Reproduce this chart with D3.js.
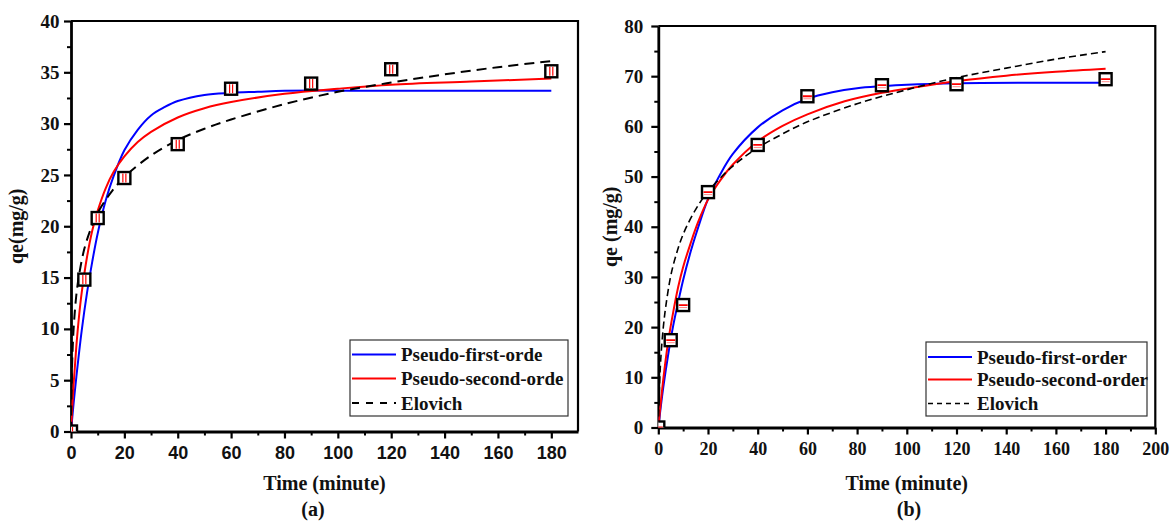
<!DOCTYPE html>
<html>
<head>
<meta charset="utf-8">
<script src="https://cdnjs.cloudflare.com/ajax/libs/d3/7.8.5/d3.min.js"></script>
<style>
  body { margin: 0; background: #fff; }
  svg { display: block; }
</style>
</head>
<body>
<svg id="chart" width="1170" height="525"></svg>
<script>
// measured points (same sampling times in both panels)
let timePts = [0, 5, 10, 20, 40, 60, 90, 120, 180];
let qeA = [0, 14.8, 20.8, 24.7, 28.0, 33.4, 33.9, 35.3, 35.1];
let qeB = [0, 17.4, 24.4, 46.9, 56.3, 66.0, 68.2, 68.4, 69.4];

// fitted curves
let pfoTimeA = [0, 1, 2, 4, 6, 8, 10, 13, 16, 20, 25, 30, 35, 40, 50, 60, 70, 80, 120, 180];
let pfoA = [0, 2.8, 5.3, 9.8, 13.5, 16.6, 19.3, 22.5, 24.9, 27.4, 29.4, 30.8, 31.6, 32.2, 32.8, 33.0, 33.1, 33.2, 33.2, 33.2];
let psoTimeA = [0, 1, 2, 3, 4, 6, 8, 10, 13, 16, 20, 25, 30, 40, 50, 60, 80, 100, 120, 150, 180];
let psoA = [0, 4.7, 8.3, 11.2, 13.5, 17.0, 19.6, 21.5, 23.7, 25.3, 26.8, 28.2, 29.2, 30.6, 31.5, 32.1, 32.9, 33.4, 33.8, 34.1, 34.4];
let eloTimeA = [0, 0.25, 0.5, 1, 2, 3, 5, 7.5, 10, 15, 20, 30, 40, 50, 60, 80, 100, 120, 140, 160, 180];
let eloA = [0, 4.7, 7.2, 10.1, 13.3, 15.2, 17.8, 19.8, 21.3, 23.3, 24.8, 26.9, 28.4, 29.5, 30.4, 31.9, 33.1, 34.0, 34.8, 35.5, 36.1];

// fitted curves
let pfoTimeB = [0, 2, 4, 6, 8, 10, 13, 16, 20, 25, 30, 40, 50, 60, 70, 80, 90, 100, 120, 150, 180];
let pfoB = [0, 8.0, 14.6, 20.3, 25.0, 29.4, 35.0, 39.8, 45.5, 50.5, 54.5, 59.8, 63.2, 65.5, 66.8, 67.6, 68.0, 68.3, 68.6, 68.7, 68.7];
let psoTimeB = [0, 2, 4, 6, 8, 10, 13, 16, 20, 25, 30, 40, 50, 60, 75, 90, 105, 120, 140, 160, 180];
let psoB = [0, 9.6, 17.2, 23.0, 28.0, 32.0, 36.7, 40.9, 45.4, 49.3, 52.4, 57.0, 60.1, 62.4, 65.0, 66.7, 67.9, 69.0, 70.1, 70.9, 71.5];
let eloTimeB = [0, 0.5, 1, 2, 3, 5, 7, 10, 15, 20, 30, 40, 50, 60, 80, 100, 120, 140, 160, 180];
let eloB = [0, 8.6, 13.7, 19.9, 24.1, 30.2, 34.1, 38.5, 43.4, 47.0, 52.1, 55.7, 58.5, 60.9, 64.5, 67.3, 69.7, 71.6, 73.4, 74.9];

let legendA = ["Pseudo-first-orde", "Pseudo-second-orde", "Elovich"];
let legendB = ["Pseudo-first-order", "Pseudo-second-order", "Elovich"];

let serif = "'Liberation Serif', 'Times New Roman', serif";
let sans = "'Liberation Sans', Arial, sans-serif";

let svg = d3.select("#chart");
svg.append("rect").attr("width", 1170).attr("height", 525).attr("fill", "#fff");

function zip(ts, qs) {
    return ts.map((t, i) => ({ t: t, q: qs[i] }));
}

function drawPanel(p) {
    let xScale = d3.scaleLinear().domain(p.xDomain).range([p.left, p.right]);
    let yScale = d3.scaleLinear().domain(p.yDomain).range([p.bottom, p.top]);

    let g = svg.append("g");

    g.append("clipPath")
        .attr("id", p.id + "-clip")
        .append("rect")
        .attr("x", p.left)
        .attr("y", p.top)
        .attr("width", p.right - p.left)
        .attr("height", p.bottom - p.top);

    // frame top/right
    g.append("path")
        .attr("d", "M" + p.left + "," + p.top + "H" + p.right + "V" + p.bottom)
        .attr("fill", "none")
        .attr("stroke", "#000")
        .attr("stroke-width", 2.2);

    // minor ticks
    g.append("g")
        .attr("transform", "translate(0," + p.bottom + ")")
        .call(d3.axisBottom(xScale).tickValues(p.xMinor).tickSize(4).tickFormat("").tickSizeOuter(0))
        .call(a => a.select(".domain").remove())
        .call(a => a.selectAll("line").attr("stroke-width", 2));
    g.append("g")
        .attr("transform", "translate(" + p.left + ",0)")
        .call(d3.axisLeft(yScale).tickValues(p.yMinor).tickSize(4).tickFormat("").tickSizeOuter(0))
        .call(a => a.select(".domain").remove())
        .call(a => a.selectAll("line").attr("stroke-width", 2));

    // major axes
    let xAxis = d3.axisBottom(xScale)
        .tickValues(p.xTicks)
        .tickSize(7)
        .tickPadding(8)
        .tickSizeOuter(0)
        .tickFormat(d3.format("d"));
    g.append("g")
        .attr("transform", "translate(0," + p.bottom + ")")
        .call(xAxis)
        .call(a => a.select(".domain").attr("stroke-width", 2.8))
        .call(a => a.selectAll("line").attr("stroke-width", 2.2))
        .call(a => a.selectAll("text")
            .attr("fill", "#111")
            .style("font-family", p.xFont)
            .style("font-weight", "bold")
            .style("font-size", p.xFontSize + "px"));

    let yAxis = d3.axisLeft(yScale)
        .tickValues(p.yTicks)
        .tickSize(7)
        .tickPadding(p.yPad)
        .tickSizeOuter(0)
        .tickFormat(d3.format("d"));
    g.append("g")
        .attr("transform", "translate(" + p.left + ",0)")
        .call(yAxis)
        .call(a => a.select(".domain").attr("stroke-width", 2.8))
        .call(a => a.selectAll("line").attr("stroke-width", 2.2))
        .call(a => a.selectAll("text")
            .attr("fill", "#111")
            .style("font-family", serif)
            .style("font-weight", "bold")
            .style("font-size", "19px"));

    // fitted curves
    let line = d3.line()
        .x(d => xScale(d.t))
        .y(d => yScale(d.q))
        .curve(d3.curveCatmullRom.alpha(0.5));

    let plot = g.append("g").attr("clip-path", "url(#" + p.id + "-clip)");

    p.curves.forEach(c => {
        plot.append("path")
            .datum(zip(c.t, c.q))
            .attr("d", line)
            .attr("fill", "none")
            .attr("stroke", c.color)
            .attr("stroke-width", c.width)
            .attr("stroke-dasharray", c.dash);
    });

    // measured points: open squares with a red inner mark
    let pts = zip(timePts, p.points);
    let s = 12;
    let marks = plot.selectAll(".pt")
        .data(pts)
        .enter()
        .append("g")
        .attr("class", "pt")
        .attr("transform", d => "translate(" + xScale(d.t) + "," + yScale(d.q) + ")");
    marks.append("rect")
        .attr("x", -s / 2)
        .attr("y", -s / 2)
        .attr("width", s)
        .attr("height", s)
        .attr("fill", "#fff")
        .attr("stroke", "#000")
        .attr("stroke-width", 2.4);
    if (p.innerMark == "vertical") {
        marks.append("path")
            .attr("d", "M-1.5,-4.5V4.5M1.5,-4.5V4.5")
            .attr("stroke", "#f00")
            .attr("stroke-width", 1.2);
    } else {
        marks.append("path")
            .attr("d", "M-4.5,0H4.5")
            .attr("stroke", "#f00")
            .attr("stroke-width", 1.8);
        marks.append("path")
            .attr("d", "M-4,2.5H4")
            .attr("stroke", "#f88")
            .attr("stroke-width", 1);
    }

    // legend
    let lg = g.append("g");
    lg.append("rect")
        .attr("x", p.legend.x)
        .attr("y", p.legend.y)
        .attr("width", p.legend.w)
        .attr("height", p.legend.h)
        .attr("fill", "#fff")
        .attr("stroke", "#333")
        .attr("stroke-width", 1.2);
    p.legend.labels.forEach((label, i) => {
        let c = p.curves[i];
        let yy = p.legend.rows[i];
        lg.append("line")
            .attr("x1", p.legend.x + 2)
            .attr("x2", p.legend.x + 46)
            .attr("y1", yy)
            .attr("y2", yy)
            .attr("stroke", c.color)
            .attr("stroke-width", c.width)
            .attr("stroke-dasharray", p.legend.dash[i]);
        lg.append("text")
            .attr("x", p.legend.x + 51)
            .attr("y", yy + 6.5)
            .attr("fill", "#111")
            .style("font-family", serif)
            .style("font-weight", "bold")
            .style("font-size", "19px")
            .text(label);
    });

    // titles
    g.append("text")
        .attr("x", (p.left + p.right) / 2)
        .attr("y", 490)
        .attr("text-anchor", "middle")
        .attr("fill", "#111")
        .style("font-family", serif)
        .style("font-weight", "bold")
        .style("font-size", "20px")
        .text("Time (minute)");

    g.append("text")
        .attr("transform", "translate(" + p.yTitleX + "," + (p.top + p.bottom) / 2 + ") rotate(-90)")
        .attr("text-anchor", "middle")
        .attr("fill", "#111")
        .style("font-family", serif)
        .style("font-weight", "bold")
        .style("font-size", "20px")
        .text(p.yTitle);

    g.append("text")
        .attr("x", p.tagX)
        .attr("y", 516)
        .attr("text-anchor", "middle")
        .attr("fill", "#111")
        .style("font-family", serif)
        .style("font-weight", "bold")
        .style("font-size", "20px")
        .text(p.tag);
}

drawPanel({
    id: "a",
    left: 71, right: 578, top: 21, bottom: 431.5,
    xDomain: [0, 190], yDomain: [0, 40],
    xTicks: d3.range(0, 181, 20), xMinor: d3.range(10, 180, 20),
    yTicks: d3.range(0, 41, 5), yMinor: d3.range(2.5, 40, 5),
    xFont: sans, xFontSize: 18, yPad: 4.5,
    points: qeA,
    innerMark: "vertical",
    curves: [
        { t: pfoTimeA, q: pfoA, color: "#0000ff", width: 2, dash: null },
        { t: psoTimeA, q: psoA, color: "#ff0000", width: 2, dash: null },
        { t: eloTimeA, q: eloA, color: "#000", width: 2, dash: "10,6" }
    ],
    legend: { x: 350, y: 340, w: 218, h: 76, rows: [354.5, 378.5, 403], labels: legendA, dash: [null, null, "7,7"] },
    yTitle: "qe(mg/g)", yTitleX: 23,
    tag: "(a)", tagX: 313
});

drawPanel({
    id: "b",
    left: 658.3, right: 1155.3, top: 26, bottom: 427.5,
    xDomain: [0, 200], yDomain: [0, 80],
    xTicks: d3.range(0, 201, 20), xMinor: d3.range(10, 200, 20),
    yTicks: d3.range(0, 81, 10), yMinor: d3.range(5, 80, 10),
    xFont: serif, xFontSize: 18, yPad: 8,
    points: qeB,
    innerMark: "horizontal",
    curves: [
        { t: pfoTimeB, q: pfoB, color: "#0000ff", width: 2, dash: null },
        { t: psoTimeB, q: psoB, color: "#ff0000", width: 2, dash: null },
        { t: eloTimeB, q: eloB, color: "#000", width: 1.6, dash: "7,4" }
    ],
    legend: { x: 926, y: 342, w: 221, h: 74, rows: [357, 379.5, 403.5], labels: legendB, dash: [null, null, "5,4"] },
    yTitle: "qe (mg/g)", yTitleX: 617,
    tag: "(b)", tagX: 909
});
</script>
</body>
</html>
